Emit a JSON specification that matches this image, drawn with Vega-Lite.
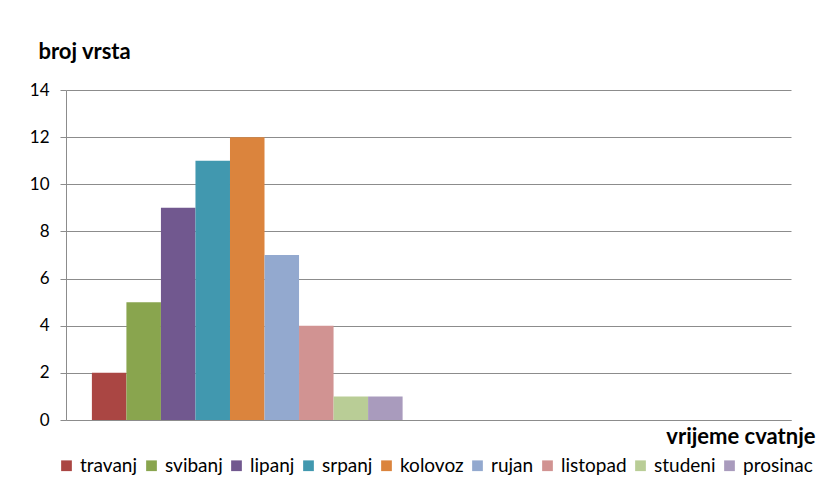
{
  "$schema": "https://vega.github.io/schema/vega-lite/v6.json",
  "width": 725,
  "height": 330,
  "autosize": {"type": "none"},
  "padding": {"left": 66, "top": 90, "right": 27, "bottom": 75},
  "background": "white",
  "config": {
    "font": "Lato",
    "view": {"stroke": null},
    "axis": {"labelColor": "#000", "titleColor": "#000"}
  },
  "data": {
    "values": [
      {"mjesec": "travanj", "broj": 2},
      {"mjesec": "svibanj", "broj": 5},
      {"mjesec": "lipanj", "broj": 9},
      {"mjesec": "srpanj", "broj": 11},
      {"mjesec": "kolovoz", "broj": 12},
      {"mjesec": "rujan", "broj": 7},
      {"mjesec": "listopad", "broj": 4},
      {"mjesec": "studeni", "broj": 1},
      {"mjesec": "prosinac", "broj": 1}
    ]
  },
  "mark": {"type": "bar"},
  "encoding": {
    "x": {
      "datum": "A",
      "type": "nominal",
      "scale": {"domain": ["A", "B"], "paddingInner": 0, "paddingOuter": 0},
      "axis": {
        "labels": false,
        "ticks": false,
        "domainColor": "#8c8c8c",
        "title": "vrijeme cvatnje",
        "titleFontSize": 22,
        "titleFontWeight": "bold",
        "titleAnchor": "end",
        "titleAlign": "right",
        "titleX": 749,
        "titleY": 23,
        "titleBaseline": "alphabetic"
      }
    },
    "xOffset": {
      "field": "mjesec",
      "type": "nominal",
      "sort": null,
      "scale": {"paddingInner": 0, "paddingOuter": 0.75}
    },
    "y": {
      "field": "broj",
      "type": "quantitative",
      "scale": {"domain": [0, 14], "nice": false},
      "axis": {
        "values": [0, 2, 4, 6, 8, 10, 12, 14],
        "title": "broj vrsta",
        "titleAngle": 0,
        "titleX": -28,
        "titleY": -32,
        "titleAlign": "left",
        "titleBaseline": "alphabetic",
        "titleFontSize": 22,
        "titleFontWeight": "bold",
        "labelFontSize": 17,
        "labelPadding": 11,
        "tickSize": 6,
        "tickColor": "#8c8c8c",
        "domainColor": "#8c8c8c",
        "gridColor": "#8c8c8c",
        "grid": true
      }
    },
    "color": {
      "field": "mjesec",
      "type": "nominal",
      "scale": {
        "domain": ["travanj", "svibanj", "lipanj", "srpanj", "kolovoz", "rujan", "listopad", "studeni", "prosinac"],
        "range": ["#AA4643", "#89A54E", "#71588F", "#4198AF", "#DB843D", "#93A9CF", "#D19392", "#B9CD96", "#A99BBD"]
      },
      "legend": {
        "orient": "none",
        "legendX": -9,
        "legendY": 366,
        "direction": "horizontal",
        "columns": 9,
        "title": null,
        "symbolType": "square",
        "symbolSize": 115,
        "symbolStrokeWidth": 0,
        "labelFontSize": 19,
        "labelOffset": 4,
        "labelColor": "#000",
        "columnPadding": 4
      }
    }
  }
}
